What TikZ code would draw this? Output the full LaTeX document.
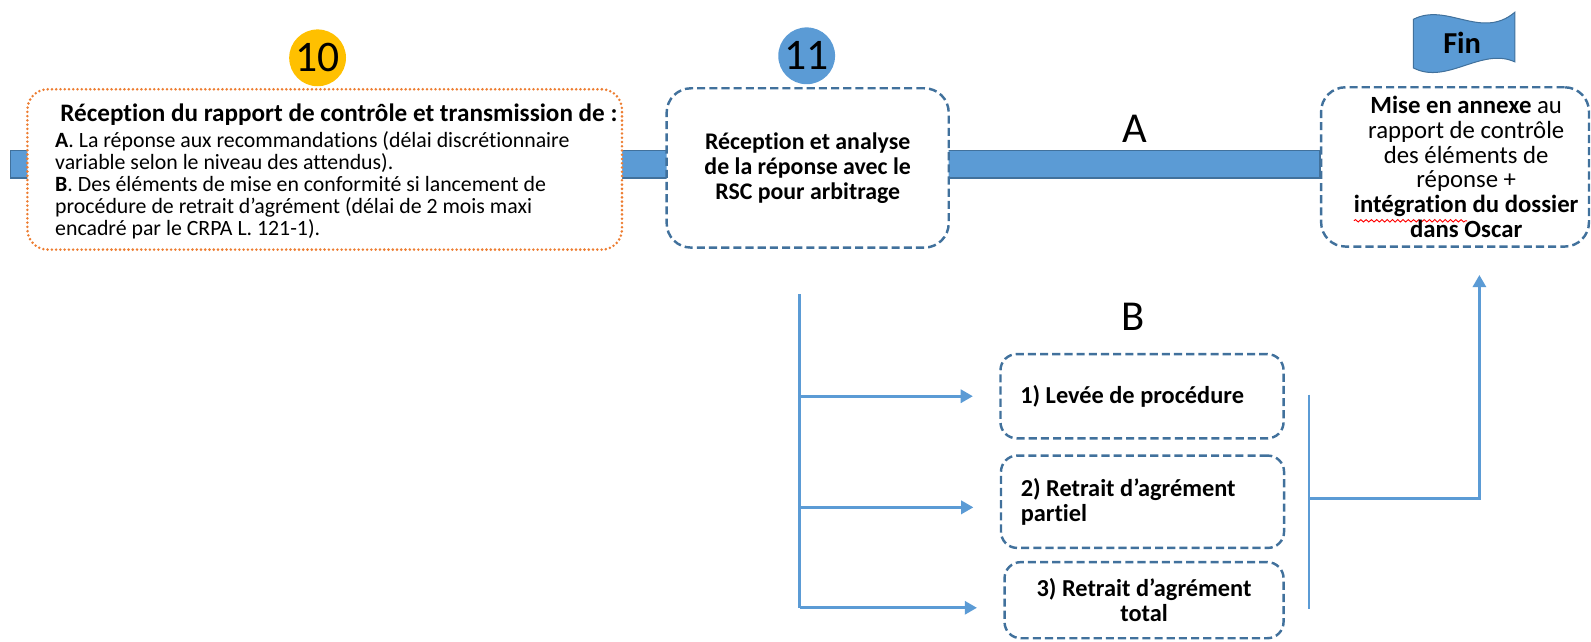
\documentclass[tikz,border=0pt]{standalone}
\usepackage{fontspec}
\setmainfont{Carlito}[Ligatures=CommonOff]
\usetikzlibrary{arrows.meta,backgrounds,decorations.pathmorphing}
\definecolor{bandblue}{HTML}{5B9BD5}
\definecolor{darkblue}{HTML}{41719C}
\definecolor{orangec}{HTML}{ED7D31}
\definecolor{yellowc}{HTML}{FFC000}
\newcommand\wavyul[1]{\tikz[baseline=(w.base)]{\node[inner sep=0pt,outer sep=0pt](w){#1};\draw[overlay,red,line width=0.45pt,decorate,decoration={snake,amplitude=0.6pt,segment length=2.6pt}]([yshift=-1.8pt]w.south west)--([yshift=-1.8pt]w.south east);}}
\tikzset{
 dashbox/.style={draw=darkblue, line width=1.2pt, dash pattern=on 4pt off 2pt, rounded corners=#1, fill=white},
 dashbox/.default=8pt,
 dotbox/.style={draw=orangec, line width=1.4pt, dash pattern=on 0pt off 2.1pt, line cap=round, rounded corners=10pt, fill=white},
 numcircle/.style={circle, fill=#1, minimum size=28pt, inner sep=0pt, font=\fontsize{21.5}{24}\selectfont},
 conn/.style={draw=bandblue, line width=1.3pt},
 arr/.style={conn, -{Triangle[length=6pt,width=6.5pt]}},
 band/.style={fill=bandblue, draw=darkblue, line width=0.6pt},
 letter/.style={font=\fontsize{21}{24}\selectfont},
 smalltxt/.style={font=\bfseries\fontsize{12}{12.6}\selectfont},
}
\begin{document}
\begin{tikzpicture}[x=0.5pt,y=-0.5pt]
\useasboundingbox (0,0) rectangle (1568,632);
% step 10
\node[numcircle=yellowc] (c10) at (313,57) {10};
\node[dotbox, minimum width=293pt, minimum height=79pt] (b10) at (320,167) {};
\node[font=\bfseries\fontsize{12.4}{14}\selectfont] (t10a) at (334,113) {Réception du rapport de contrôle et transmission de :};
\node[anchor=north west, text width=285pt, align=flush left, inner sep=0pt, font=\fontsize{10.75}{10.9}\selectfont] (t10b) at (54,129) {\textbf{A}. La réponse aux recommandations (délai discrétionnaire\\variable selon le niveau des attendus).\\\textbf{B}. Des éléments de mise en conformité si lancement de\\procédure de retrait d’agrément (délai de 2 mois maxi\\encadré par le CRPA L. 121-1).};
% step 11
\node[numcircle=bandblue] (c11) at (795,55) {11};
\node[dashbox=12pt, minimum width=139pt, minimum height=78.5pt, align=center, font=\bfseries\fontsize{11.75}{12.3}\selectfont] (b11) at (796,165.5) {Réception et analyse\\de la réponse avec le\\RSC pour arbitrage};
% fin
\node[dashbox=12pt, minimum width=132pt, minimum height=78.5pt] (fin) at (1434,164.5) {};
\node[align=center, font=\fontsize{12.2}{12.3}\selectfont] (tfin) at (1445,164.5) {\textbf{Mise en annexe} au\\rapport de contrôle\\des éléments de\\réponse +\\\wavyul{\textbf{intégration}} \textbf{du dossier}\\\textbf{dans Oscar}};
\fill[bandblue, draw=darkblue, line width=0.5pt] (1393,19) .. controls (1426,2) and (1460,40) .. (1493,12) -- (1493,61) .. controls (1460,46) and (1426,84) .. (1393,67) -- cycle;
\node[font=\bfseries\fontsize{15}{17}\selectfont] (finlabel) at (1441,42) {Fin};
% labels
\node[letter] (lA) at (1118,127) {A};
\node[letter] (lB) at (1117,312) {B};
% B boxes
\node[dashbox=8pt, smalltxt, text width=125pt, inner xsep=7.25pt, align=flush left, minimum height=41.5pt] (b1) at (1125.5,390.5) {\hspace*{2.5pt}1) Levée de procédure};
\node[dashbox=8pt, smalltxt, text width=125pt, inner xsep=7.25pt, align=flush left, minimum height=45.5pt] (b2) at (1126,494.5) {\hspace*{2.5pt}2) Retrait d’agrément\\\hspace*{2.5pt}partiel};
\node[dashbox=8pt, smalltxt, text width=130pt, inner xsep=3.75pt, align=flush center, minimum height=37.5pt] (b3) at (1127.5,591.5) {3) Retrait d’agrément\\total};
% band
\begin{scope}[on background layer]
\coordinate (bandTL) at (10,148.5);
\coordinate (bandB) at (0,175.5);
\draw[band] (bandTL) rectangle (fin.west |- bandB);
\end{scope}
% connectors
\coordinate (trunkTop) at (788,290);
\coordinate (trunkBot) at (788,599);
\draw[conn] (trunkTop) -- (trunkBot);
\draw[arr] (trunkTop |- b1.west) -- ([xshift=-13pt]b1.west);
\draw[arr] ([yshift=-2.75pt]trunkTop |- b2.west) -- ([xshift=-13pt,yshift=-2.75pt]b2.west);
\draw[arr] ([yshift=-3.75pt]trunkTop |- b3.west) -- ([xshift=-13pt,yshift=-3.75pt]b3.west);
\coordinate (rTop) at (1290,389);
\coordinate (rBot) at (1290,600);
\coordinate (rMid) at (1290,491);
\coordinate (finIn) at (1458,271);
\draw[conn] (rTop) -- (rBot);
\draw[arr] (rMid) -| (finIn);
\end{tikzpicture}
\end{document}
